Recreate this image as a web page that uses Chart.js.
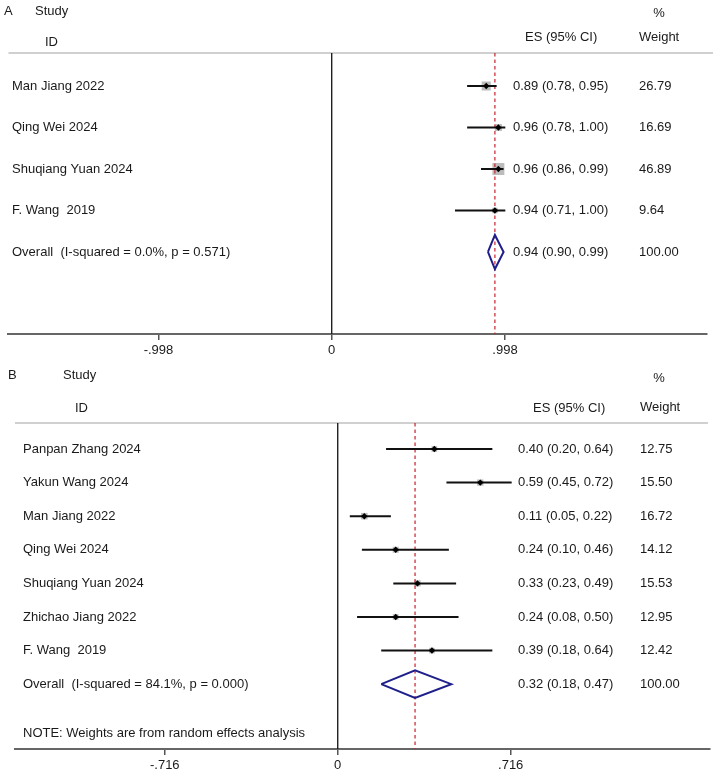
<!DOCTYPE html>
<html>
<head>
<meta charset="utf-8">
<script src="https://cdn.jsdelivr.net/npm/chart.js@4.4.1/dist/chart.umd.min.js"></script>
<style>
  html, body { margin: 0; padding: 0; background: #fff; }
  #wrap { position: relative; width: 715px; height: 776px; }
  #chartA { position: absolute; left: 0; top: 0; }
  #chartB { position: absolute; left: 0; top: 362px; }
</style>
</head>
<body>
<div id="wrap">
  <canvas id="chartA" width="715" height="362"></canvas>
  <canvas id="chartB" width="715" height="414"></canvas>
</div>
<script>
// Panel A data
const studiesA = ["Man Jiang 2022", "Qing Wei 2024", "Shuqiang Yuan 2024", "F. Wang  2019"];
const esA = [0.89, 0.96, 0.96, 0.94];
const loA = [0.78, 0.78, 0.86, 0.71];
const hiA = [0.95, 1.00, 0.99, 1.00];
const weightA = [26.79, 16.69, 46.89, 9.64];
const overallA = [0.94, 0.90, 0.99]; // es, lo, hi
const overallLabelA = "Overall  (I-squared = 0.0%, p = 0.571)";
const tickValsA = [-0.998, 0, 0.998];
const tickLabelsA = ["-.998", "0", ".998"];

// Panel B data
const studiesB = ["Panpan Zhang 2024", "Yakun Wang 2024", "Man Jiang 2022", "Qing Wei 2024",
                  "Shuqiang Yuan 2024", "Zhichao Jiang 2022", "F. Wang  2019"];
const esB = [0.40, 0.59, 0.11, 0.24, 0.33, 0.24, 0.39];
const loB = [0.20, 0.45, 0.05, 0.10, 0.23, 0.08, 0.18];
const hiB = [0.64, 0.72, 0.22, 0.46, 0.49, 0.50, 0.64];
const weightB = [12.75, 15.50, 16.72, 14.12, 15.53, 12.95, 12.42];
const overallB = [0.32, 0.18, 0.47];
const overallLabelB = "Overall  (I-squared = 84.1%, p = 0.000)";
const noteB = "NOTE: Weights are from random effects analysis";
const tickValsB = [-0.716, 0, 0.716];
const tickLabelsB = ["-.716", "0", ".716"];

const FONT = "'Liberation Sans', Arial, Helvetica, sans-serif";

// Draws the header, study names, ES text and weights
const forestText = {
    id: "forestText",
    beforeDatasetsDraw(chart, args, o) {
        const ctx = chart.ctx;
        const area = chart.chartArea;
        ctx.save();
        ctx.strokeStyle = "#d0d0d0";
        ctx.lineWidth = 2;
        ctx.beginPath();
        ctx.moveTo(area.left, area.top);
        ctx.lineTo(o.sepRight, area.top);
        ctx.stroke();
        ctx.restore();
    },
    afterDraw(chart, args, o) {
        const ctx = chart.ctx;
        const y = chart.scales.y;
        ctx.save();
        ctx.font = "13px " + FONT;
        ctx.fillStyle = "#1a1a1a";
        ctx.textBaseline = "middle";
        ctx.textAlign = "left";
        o.headers.forEach(h => {
            ctx.textAlign = h.align || "left";
            ctx.fillText(h.text, h.x, h.y);
        });
        ctx.textAlign = "left";
        o.names.forEach((n, i) => {
            const py = y.getPixelForValue(i + 1);
            ctx.fillText(n, o.nameX, py);
            ctx.fillText(o.esText[i], o.esX, py);
            ctx.fillText(o.wText[i], o.wX, py);
        });
        if (o.note) {
            ctx.fillText(o.note, o.nameX, y.getPixelForValue(o.noteRow));
        }
        ctx.restore();
    }
};

const fmt = v => v.toFixed(2);

const makeForest = (canvas, p) => {
    const n = p.studies.length;
    const overallRow = n + 1;
    const ciSets = p.studies.map((s, i) => ({
        data: [{ x: p.lo[i], y: i + 1 }, { x: p.hi[i], y: i + 1 }],
        showLine: true, borderColor: "#111", borderWidth: 2, pointRadius: 0, order: 2
    }));
    const [oEs, oLo, oHi] = p.overall;
    const dh = 0.41;
    const datasets = [
        // point estimates
        {
            data: p.es.map((v, i) => ({ x: v, y: i + 1 })),
            pointStyle: "rectRot", pointRadius: 3.2, backgroundColor: "#000",
            borderColor: "#000", borderWidth: 0, order: 1
        },
        ...ciSets,
        // weight boxes
        {
            data: p.es.map((v, i) => ({ x: v, y: i + 1 })),
            pointStyle: "rect",
            pointRadius: p.weight.map(w => p.boxK * Math.sqrt(w) / Math.SQRT2),
            backgroundColor: "#bcbcbc", borderWidth: 0, order: 4
        },
        // overall diamond
        {
            data: [
                { x: oLo, y: overallRow }, { x: oEs, y: overallRow - dh },
                { x: oHi, y: overallRow }, { x: oEs, y: overallRow + dh },
                { x: oLo, y: overallRow }
            ],
            showLine: true, borderColor: "#1f1f8c", borderWidth: 2, pointRadius: 0, order: 2
        },
        // overall effect dashed line
        {
            data: [{ x: oEs, y: p.yMin }, { x: oEs, y: p.yMax }],
            showLine: true, borderColor: "#c8202a", borderWidth: 1.2, borderDash: [3.5, 3],
            pointRadius: 0, order: 3
        },
        // no-effect line
        {
            data: [{ x: 0, y: p.yMin }, { x: 0, y: p.yMax }],
            showLine: true, borderColor: "#111", borderWidth: 1.3, pointRadius: 0, order: 5
        }
    ];

    return new Chart(canvas, {
        type: "scatter",
        data: { datasets },
        plugins: [forestText],
        options: {
            responsive: false,
            animation: false,
            events: [],
            layout: { padding: { left: p.left, right: p.right, top: p.top, bottom: 0 } },
            plugins: {
                legend: { display: false },
                tooltip: { enabled: false },
                forestText: {
                    headers: p.headers,
                    names: p.studies.concat([p.overallLabel]),
                    esText: p.es.map((v, i) => `${fmt(v)} (${fmt(p.lo[i])}, ${fmt(p.hi[i])})`)
                        .concat([`${fmt(oEs)} (${fmt(oLo)}, ${fmt(oHi)})`]),
                    wText: p.weight.map(fmt).concat(["100.00"]),
                    nameX: p.nameX, esX: p.esX, wX: p.wX,
                    note: p.note, noteRow: p.noteRow,
                    sepRight: p.sepRight
                }
            },
            scales: {
                x: {
                    type: "linear",
                    min: p.xMin, max: p.xMax,
                    afterBuildTicks: axis => { axis.ticks = p.tickVals.map(v => ({ value: v })); },
                    afterFit: axis => { axis.height = p.axisH; },
                    ticks: {
                        callback: (v, i) => p.tickLabels[i],
                        autoSkip: false, maxRotation: 0, padding: 3,
                        color: "#1a1a1a", font: { family: FONT, size: 13 }
                    },
                    grid: { drawOnChartArea: false, drawTicks: true, tickLength: 6, color: "#555", lineWidth: 1.5 },
                    border: { display: true, color: "#666", width: 2 }
                },
                y: {
                    type: "linear", reverse: true, display: false,
                    min: p.yMin, max: p.yMax
                }
            }
        }
    });
};

makeForest(document.getElementById("chartA"), {
    studies: studiesA, es: esA, lo: loA, hi: hiA, weight: weightA,
    overall: overallA, overallLabel: overallLabelA,
    tickVals: tickValsA, tickLabels: tickLabelsA,
    xMin: -1.862, xMax: 2.159, yMin: 0.205, yMax: 6.976,
    left: 4, right: 2, top: 53, axisH: 28, sepRight: 713,
    boxK: 1.75,
    nameX: 12, esX: 513, wX: 639,
    headers: [
        { text: "A", x: 4, y: 11 },
        { text: "Study", x: 35, y: 11 },
        { text: "ID", x: 45, y: 42 },
        { text: "ES (95% CI)", x: 525, y: 37 },
        { text: "%", x: 659, y: 13, align: "center" },
        { text: "Weight", x: 639, y: 37 }
    ]
});

makeForest(document.getElementById("chartB"), {
    studies: studiesB, es: esB, lo: loB, hi: hiB, weight: weightB,
    overall: overallB, overallLabel: overallLabelB,
    note: noteB, noteRow: 9.48,
    tickVals: tickValsB, tickLabels: tickLabelsB,
    xMin: -1.336, xMax: 1.541, yMin: 0.226, yMax: 9.93,
    left: 15, right: 5, top: 61, axisH: 27, sepRight: 708,
    boxK: 1.6,
    nameX: 23, esX: 518, wX: 640,
    headers: [
        { text: "B", x: 8, y: 13 },
        { text: "Study", x: 63, y: 13 },
        { text: "ID", x: 75, y: 46 },
        { text: "ES (95% CI)", x: 533, y: 46 },
        { text: "%", x: 659, y: 16, align: "center" },
        { text: "Weight", x: 640, y: 45 }
    ]
});
</script>
</body>
</html>
